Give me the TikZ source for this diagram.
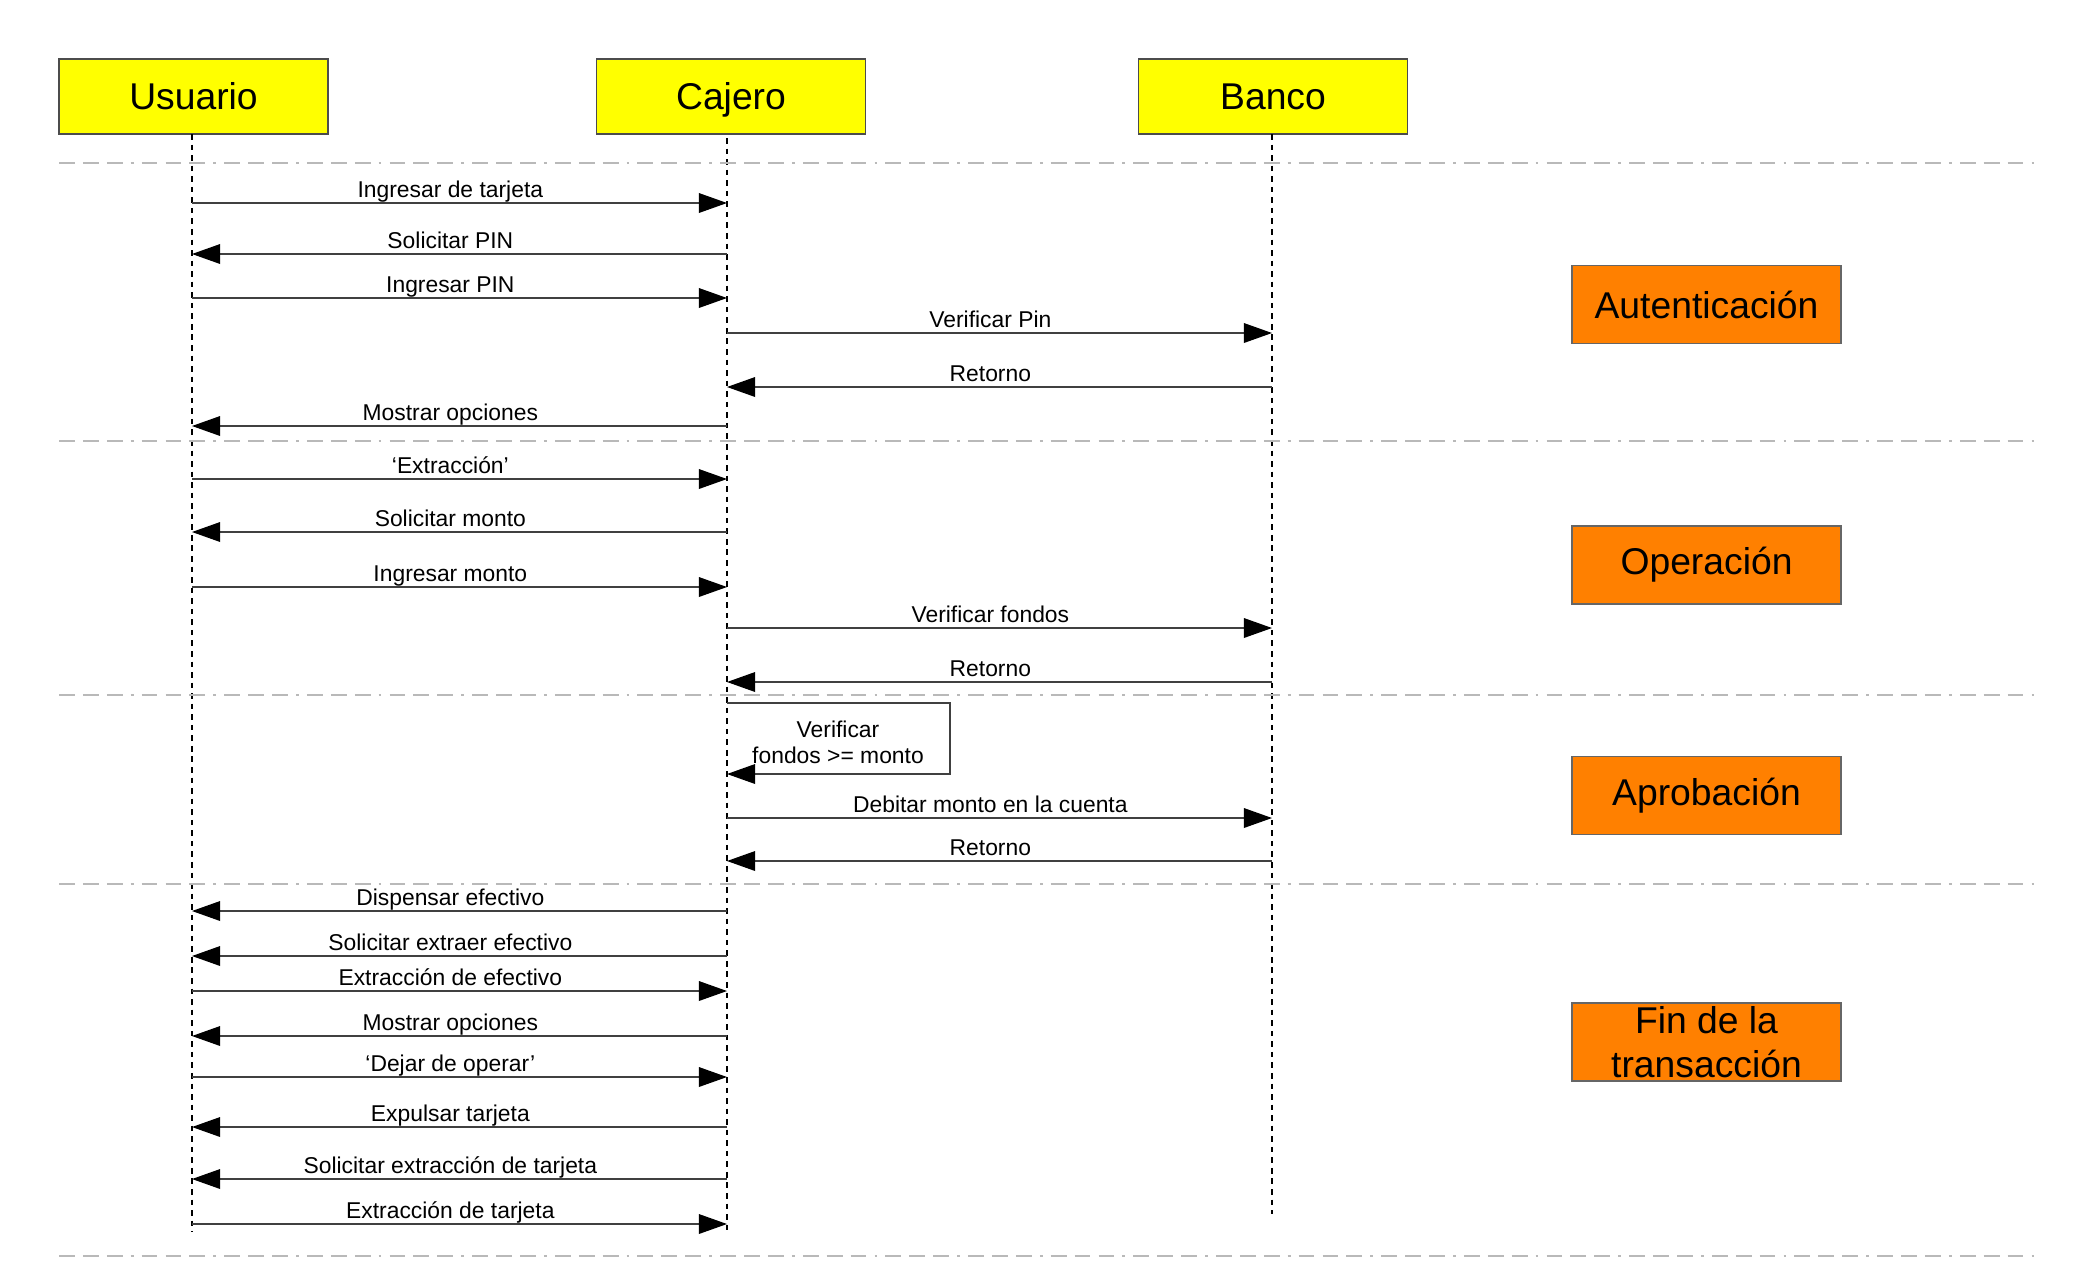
\documentclass[tikz,border=0pt]{standalone}
\usepackage{fontspec}
\setmainfont{Liberation Sans}
\usetikzlibrary{arrows.meta}

\begin{document}
\begin{tikzpicture}[x=0.01cm,y=-0.01cm,
        actor/.style={draw=black!70,fill=amarillo,minimum width=2.69cm,minimum height=0.75cm,inner sep=0pt,text height=0.84em,text depth=0.08em,font=\fontsize{10.6}{12}\selectfont},
        fase/.style={draw=black!60,fill=naranja,minimum width=2.69cm,minimum height=0.78cm,inner sep=0pt,align=center,font=\fontsize{10.6}{12.4}\selectfont},
        vida/.style={line width=0.35pt,dash pattern=on 1.6pt off 1.4pt},
        separador/.style={gray!55,line width=0.6pt,dash pattern=on 4.5pt off 2.3pt on 4.5pt off 2.3pt on 4.5pt off 2.3pt on 0.8pt off 2.3pt},
        msg/.style={black!75,line width=0.35pt,-{Triangle[length=8pt,width=5.6pt,color=black]}},
        etiq/.style={anchor=base,yshift=1.5pt,xshift=-2.6pt,inner sep=0pt,text=black,font=\fontsize{6.5}{7.4}\selectfont}]
        %colores
        \definecolor{amarillo}{RGB}{255,255,0}
        \definecolor{naranja}{RGB}{255,128,0}
        \useasboundingbox (0,0) rectangle (2100,1275);

        % actores
        \node[actor] (usuario) at (193.5,96.5) {Usuario};
        \node[actor] (cajero) at (731,96.5) {Cajero};
        \node[actor] (banco) at (1273,96.5) {Banco};

        % lineas de vida
        \coordinate (vu) at (192,134);
        \coordinate (vc) at (727,138);
        \coordinate (vb) at (1272,134);
        \draw[vida] (vu) -- (vu |- 0,1232);
        \draw[vida] (vc) -- (vc |- 0,1230);
        \draw[vida] (vb) -- (vb |- 0,1214);

        % separadores de fases
        \foreach \y in {163,441,695,884,1256}
        \draw[separador] (59,\y) -- (2040,\y);

        % fases
        \node[fase] (auten) at (1706.5,304.5) {Autenticación};
        \node[fase] (oper) at (1706.5,565) {Operación};
        \node[fase] (aprob) at (1706.5,795.5) {Aprobación};
        \node[fase] (fin) at (1706.5,1042) {Fin de la\\transacción};

        % mensajes
        \foreach \y/\desde/\hasta/\texto in {203/vu/vc/Ingresar de tarjeta,
            254/vc/vu/Solicitar PIN,
            298/vu/vc/Ingresar PIN,
            333/vc/vb/Verificar Pin,
            387/vb/vc/Retorno,
            426/vc/vu/Mostrar opciones,
            479/vu/vc/‘Extracción’,
            532/vc/vu/Solicitar monto,
            587/vu/vc/Ingresar monto,
            628/vc/vb/Verificar fondos,
            682/vb/vc/Retorno,
            818/vc/vb/Debitar monto en la cuenta,
            861/vb/vc/Retorno,
            911/vc/vu/Dispensar efectivo,
            956/vc/vu/Solicitar extraer efectivo,
            991/vu/vc/Extracción de efectivo,
            1036/vc/vu/Mostrar opciones,
            1077/vu/vc/‘Dejar de operar’,
            1127/vc/vu/Expulsar tarjeta,
            1179/vc/vu/Solicitar extracción de tarjeta,
            1224/vu/vc/Extracción de tarjeta}
        \draw[msg] (\desde |- 0,\y) -- (\hasta |- 0,\y) node[midway,etiq] {\texto};

        % mensaje a si mismo
        \coordinate (giro) at (950,703);
        \draw[msg] (vc |- giro) -| (950,774) -- (vc |- 0,774);
        \node[align=center,inner sep=0pt,font=\fontsize{6.5}{7.4}\selectfont] (verif) at (838,742) {Verificar\\fondos >= monto};
\end{tikzpicture}
\end{document}
